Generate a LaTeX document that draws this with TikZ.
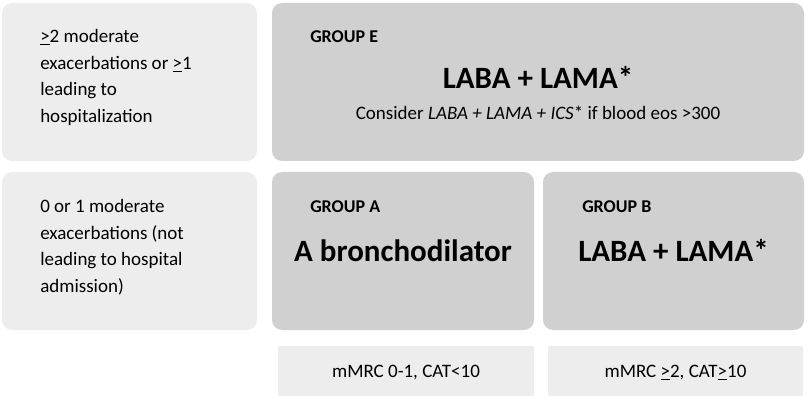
\documentclass[tikz,border=0pt]{standalone}
\usepackage{fontspec}
\setmainfont{Carlito}
\usepackage{xcolor}

\definecolor{boxlight}{RGB}{237,237,237}
\definecolor{boxgroup}{RGB}{208,208,208}
\definecolor{inkdark}{RGB}{0,0,0}

\tikzset{
	critbox/.style={fill=boxlight, rounded corners=7.5pt},
	groupbox/.style={fill=boxgroup, rounded corners=7.5pt},
	scorebox/.style={fill=boxlight, rounded corners=1.5pt},
	bodytext/.style={inner sep=0pt, text=inkdark, font=\fontsize{14.25}{20}\selectfont},
	grouplabel/.style={inner sep=0pt, text=inkdark, font=\fontsize{13.5}{16}\selectfont\bfseries},
	drugtext/.style={inner sep=0pt, text=inkdark, font=\fontsize{23.25}{28}\selectfont\bfseries},
}

\begin{document}
\begin{tikzpicture}[x=0.75pt,y=0.75pt,yscale=-1,xscale=1]
				\useasboundingbox (0,0) rectangle (809,402);
				
				%Shape: Rectangle [exacerbation rows]
				\fill [critbox] (2,3) rectangle (257,161);
				\fill [critbox] (2,172) rectangle (257,330);
				%Shape: Rectangle [groups]
				\fill [groupbox] (272,3) rectangle (804,161);
				\fill [groupbox] (272,172) rectangle (534,330);
				\fill [groupbox] (543,172) rectangle (804,330);
				%Shape: Rectangle [symptom scores]
				\fill [scorebox] (278,346) rectangle (534,396);
				\fill [scorebox] (548,346) rectangle (803,396);
				
				% Text Node
				\node [bodytext, anchor=north west, align=left] (exacHigh) at (40,29) {\underline{>}2 moderate\\exacerbations or \underline{>}1\\leading to\\hospitalization};
				% Text Node
				\node [bodytext, anchor=north west, align=left] (exacLow) at (40,199) {0 or 1 moderate\\exacerbations (not\\leading to hospital\\admission)};
				% Text Node
				\node [grouplabel, anchor=base west] (groupE) at (310,43) {GROUP E};
				% Text Node
				\node [drugtext, anchor=base] (drugE) at (538,89) {LABA + LAMA*};
				% Text Node
				\node [bodytext, anchor=base] (considerE) at (538,120) {Consider \textit{LABA + LAMA + ICS}* if blood eos >300};
				% Text Node
				\node [grouplabel, anchor=base west] (groupA) at (310,213) {GROUP A};
				% Text Node
				\node [drugtext, anchor=base] (drugA) at (403,262) {A bronchodilator};
				% Text Node
				\node [grouplabel, anchor=base west] (groupB) at (582,213) {GROUP B};
				% Text Node
				\node [drugtext, anchor=base] (drugB) at (673.5,262) {LABA + LAMA*};
				% Text Node
				\node [bodytext, anchor=base] (scoreA) at (406,377) {mMRC 0-1, CAT<10};
				% Text Node
				\node [bodytext, anchor=base] (scoreB) at (675.5,377) {mMRC \underline{>}2, CAT\underline{>}10};
				
\end{tikzpicture}
\end{document}
